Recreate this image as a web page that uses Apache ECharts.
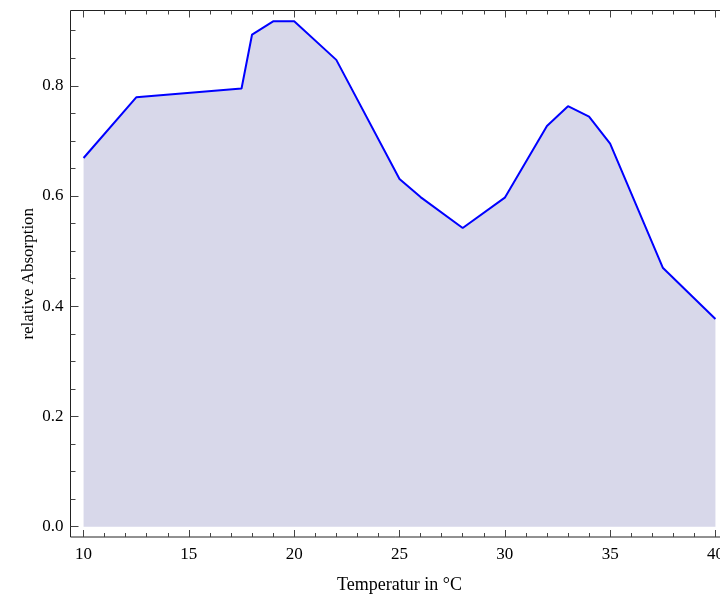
<!DOCTYPE html>
<html>
<head>
<meta charset="utf-8">
<script src="https://cdn.jsdelivr.net/npm/echarts@6/dist/echarts.min.js"></script>
<style>
  html, body { margin: 0; padding: 0; background: #fff; }
  #chart { width: 720px; height: 594px; }
</style>
</head>
<body>
<div id="chart"></div>
<script>
// readings taken off the plot
const temps = [10, 12.5, 17.5, 18, 19, 20, 22, 25, 26, 28, 30, 32, 33, 34, 35, 37.5, 40];
const absorption = [0.669, 0.779, 0.795, 0.893, 0.917, 0.917, 0.847, 0.631, 0.598, 0.542, 0.597, 0.727, 0.763, 0.744, 0.695, 0.470, 0.377];

const xMajor = [10, 15, 20, 25, 30, 35, 40];
const xMinor = [11, 12, 13, 14, 16, 17, 18, 19, 21, 22, 23, 24, 26, 27, 28, 29, 31, 32, 33, 34, 36, 37, 38, 39];
const yMajor = [0, 0.2, 0.4, 0.6, 0.8];
const yMinor = [0.05, 0.1, 0.15, 0.25, 0.3, 0.35, 0.45, 0.5, 0.55, 0.65, 0.7, 0.75, 0.85, 0.9];

const font = 'Liberation Serif';
const tickColor = '#444';

const chart = echarts.init(document.getElementById('chart'));

// one axis per set of ticks; all share the same range
function xAx(pos, ticks, len, main) {
  return {
    type: 'value', position: pos, min: 9.38, max: 40.62,
    name: main ? 'Temperatur in \u00b0C' : '',
    nameLocation: 'middle', nameGap: 39, nameMoveOverlap: false,
    nameTextStyle: { fontFamily: font, fontSize: 18, color: '#000' },
    axisLine: { show: false, onZero: false },
    splitLine: { show: false },
    axisTick: { show: true, inside: true, length: len, customValues: ticks,
      lineStyle: { color: tickColor, width: 1 } },
    axisLabel: { show: main, customValues: ticks, margin: 9,
      fontFamily: font, fontSize: 17, color: '#000' }
  };
}
function yAx(pos, ticks, len, main) {
  return {
    type: 'value', position: pos, min: -0.0187, max: 0.9366,
    name: main ? 'relative Absorption' : '',
    nameLocation: 'middle', nameGap: 33, nameMoveOverlap: false,
    nameTextStyle: { fontFamily: font, fontSize: 17, color: '#000' },
    axisLine: { show: false, onZero: false },
    splitLine: { show: false },
    axisTick: { show: true, inside: true, length: len, customValues: ticks,
      lineStyle: { color: tickColor, width: 1 } },
    axisLabel: { show: main, customValues: ticks, margin: 7,
      formatter: v => v.toFixed(1),
      fontFamily: font, fontSize: 17, color: '#000' }
  };
}

chart.setOption({
  animation: false,
  backgroundColor: '#fff',
  grid: {
    left: 70.5, top: 10.5, width: 658, height: 526.5,
    outerBoundsMode: 'none', containLabel: false,
    show: true, borderColor: '#222', borderWidth: 1, backgroundColor: 'transparent'
  },
  xAxis: [
    xAx('bottom', xMajor, 7, true),
    xAx('bottom', xMinor, 4, false),
    xAx('top', xMajor, 7, false),
    xAx('top', xMinor, 4, false)
  ],
  yAxis: [
    yAx('left', yMajor, 8, true),
    yAx('left', yMinor, 5, false),
    yAx('right', yMajor, 8, false),
    yAx('right', yMinor, 5, false)
  ],
  series: [{
    type: 'line',
    xAxisIndex: 0, yAxisIndex: 0,
    data: temps.map((t, i) => [t, absorption[i]]),
    showSymbol: false,
    lineStyle: { color: '#0000ff', width: 2 },
    areaStyle: { color: '#d8d8ea', opacity: 1, origin: 'auto' },
    z: 1
  }]
});
</script>
</body>
</html>
